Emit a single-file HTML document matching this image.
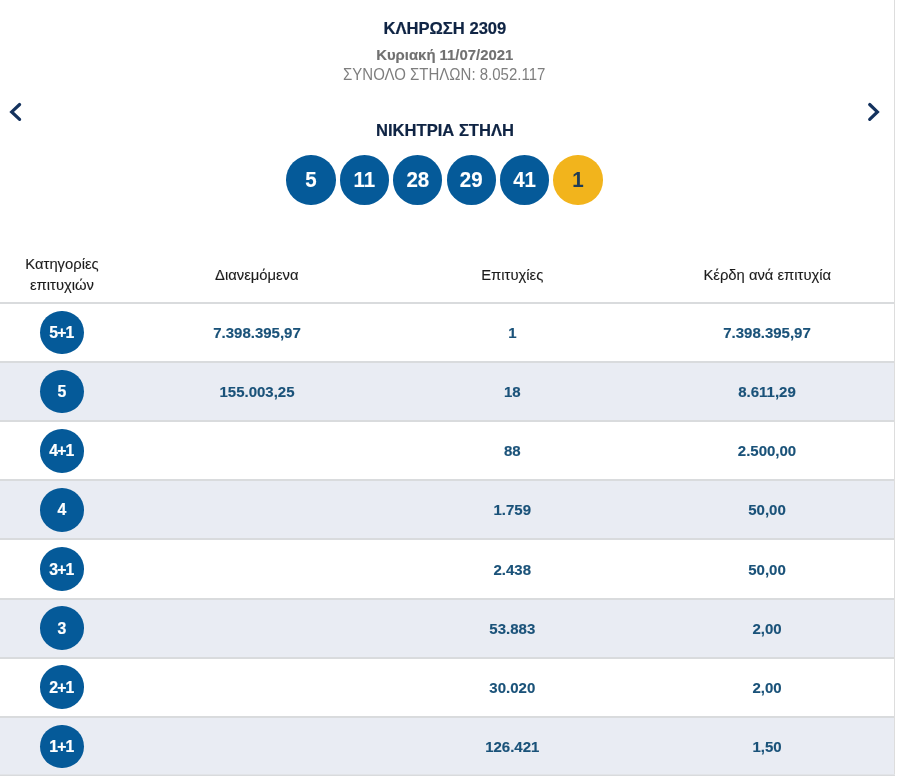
<!DOCTYPE html>
<html><head><meta charset="utf-8"><style>
html,body{margin:0;padding:0;background:#fff;}
body{width:898px;height:780px;position:relative;overflow:hidden;font-family:"Liberation Sans",sans-serif;}
#w{position:absolute;left:0;top:0;width:898px;height:780px;will-change:transform;}
</style></head><body><div id="w">
<div style="position:absolute;left:894px;top:0;width:1px;height:776px;background:#dddddd"></div>
<div style="position:absolute;left:194.90px;width:500px;top:14.10px;height:30px;line-height:30px;text-align:center;font-size:16.6px;font-weight:bold;color:#0f2444;white-space:nowrap;-webkit-text-stroke:0.2px">ΚΛΗΡΩΣΗ 2309</div>
<div style="position:absolute;left:194.75px;width:500px;top:39.80px;height:30px;line-height:30px;text-align:center;font-size:14.9px;font-weight:bold;color:#717171;white-space:nowrap;transform:scaleY(1.03);transform-origin:50% 20.0px;-webkit-text-stroke:0.15px">Κυριακή 11/07/2021</div>
<div style="position:absolute;left:194.20px;width:500px;top:60.40px;height:30px;line-height:30px;text-align:center;font-size:15px;font-weight:normal;color:#7e7e7e;white-space:nowrap;transform:scaleY(1.05);transform-origin:50% 20.5px;">ΣΥΝΟΛΟ ΣΤΗΛΩΝ: 8.052.117</div>
<div style="position:absolute;left:195.00px;width:500px;top:115.70px;height:30px;line-height:30px;text-align:center;font-size:16.6px;font-weight:bold;color:#0f2444;white-space:nowrap;-webkit-text-stroke:0.2px">ΝΙΚΗΤΡΙΑ ΣΤΗΛΗ</div>
<svg style="position:absolute;left:0;top:0" width="898" height="200"><polyline points="19.6,104.5 11.7,111.9 19.6,119.3" fill="none" stroke="#14325e" stroke-width="3.2" stroke-linecap="round" stroke-linejoin="miter"/><polyline points="869.7,104.5 877.4,111.9 869.7,119.3" fill="none" stroke="#14325e" stroke-width="3.2" stroke-linecap="round" stroke-linejoin="miter"/></svg>
<div style="position:absolute;left:286.30px;top:155.3px;width:49.4px;height:49.4px;border-radius:50%;background:#055a99"></div>
<div style="position:absolute;left:61.00px;width:500px;top:164.90px;height:30px;line-height:30px;text-align:center;font-size:20.5px;font-weight:bold;color:#fff;white-space:nowrap;transform:scaleY(1.08);transform-origin:50% 22.5px;-webkit-text-stroke:0.1px">5</div>
<div style="position:absolute;left:339.70px;top:155.3px;width:49.4px;height:49.4px;border-radius:50%;background:#055a99"></div>
<div style="position:absolute;left:114.40px;width:500px;top:164.90px;height:30px;line-height:30px;text-align:center;font-size:20.5px;font-weight:bold;color:#fff;white-space:nowrap;transform:scaleY(1.08);transform-origin:50% 22.5px;-webkit-text-stroke:0.1px">11</div>
<div style="position:absolute;left:393.10px;top:155.3px;width:49.4px;height:49.4px;border-radius:50%;background:#055a99"></div>
<div style="position:absolute;left:167.80px;width:500px;top:164.90px;height:30px;line-height:30px;text-align:center;font-size:20.5px;font-weight:bold;color:#fff;white-space:nowrap;transform:scaleY(1.08);transform-origin:50% 22.5px;-webkit-text-stroke:0.1px">28</div>
<div style="position:absolute;left:446.50px;top:155.3px;width:49.4px;height:49.4px;border-radius:50%;background:#055a99"></div>
<div style="position:absolute;left:221.20px;width:500px;top:164.90px;height:30px;line-height:30px;text-align:center;font-size:20.5px;font-weight:bold;color:#fff;white-space:nowrap;transform:scaleY(1.08);transform-origin:50% 22.5px;-webkit-text-stroke:0.1px">29</div>
<div style="position:absolute;left:499.90px;top:155.3px;width:49.4px;height:49.4px;border-radius:50%;background:#055a99"></div>
<div style="position:absolute;left:274.60px;width:500px;top:164.90px;height:30px;line-height:30px;text-align:center;font-size:20.5px;font-weight:bold;color:#fff;white-space:nowrap;transform:scaleY(1.08);transform-origin:50% 22.5px;-webkit-text-stroke:0.1px">41</div>
<div style="position:absolute;left:553.30px;top:155.3px;width:49.4px;height:49.4px;border-radius:50%;background:#f2b41c"></div>
<div style="position:absolute;left:328.00px;width:500px;top:164.90px;height:30px;line-height:30px;text-align:center;font-size:20.5px;font-weight:bold;color:#1f3d57;white-space:nowrap;transform:scaleY(1.08);transform-origin:50% 22.5px;-webkit-text-stroke:0.1px">1</div>
<div style="position:absolute;left:-188.00px;width:500px;top:248.90px;height:30px;line-height:30px;text-align:center;font-size:14.8px;font-weight:normal;color:#1c1c1c;white-space:nowrap;-webkit-text-stroke:0.12px">Κατηγορίες</div>
<div style="position:absolute;left:-188.00px;width:500px;top:269.50px;height:30px;line-height:30px;text-align:center;font-size:14.8px;font-weight:normal;color:#1c1c1c;white-space:nowrap;-webkit-text-stroke:0.12px">επιτυχιών</div>
<div style="position:absolute;left:6.80px;width:500px;top:260.00px;height:30px;line-height:30px;text-align:center;font-size:14.8px;font-weight:normal;color:#1c1c1c;white-space:nowrap;-webkit-text-stroke:0.12px">Διανεμόμενα</div>
<div style="position:absolute;left:262.30px;width:500px;top:260.00px;height:30px;line-height:30px;text-align:center;font-size:14.8px;font-weight:normal;color:#1c1c1c;white-space:nowrap;-webkit-text-stroke:0.12px">Επιτυχίες</div>
<div style="position:absolute;left:517.30px;width:500px;top:260.00px;height:30px;line-height:30px;text-align:center;font-size:14.8px;font-weight:normal;color:#1c1c1c;white-space:nowrap;-webkit-text-stroke:0.12px">Κέρδη ανά επιτυχία</div>
<div style="position:absolute;left:0;top:302px;width:894px;height:2px;background:#d9dbdd"></div>
<div style="position:absolute;left:0;top:361.000px;width:894px;height:2px;background:#d9dbdd"></div>
<div style="position:absolute;left:40.10px;top:310.70px;width:43.6px;height:43.6px;border-radius:50%;background:#055a99"></div>
<div style="position:absolute;left:-188.60px;width:500px;top:318.00px;height:30px;line-height:30px;text-align:center;font-size:15.8px;font-weight:bold;color:#fff;white-space:nowrap;letter-spacing:-0.9px;-webkit-text-stroke:0.2px">5+1</div>
<div style="position:absolute;left:7.00px;width:500px;top:318.00px;height:30px;line-height:30px;text-align:center;font-size:15px;font-weight:bold;color:#1a5279;white-space:nowrap;-webkit-text-stroke:0.15px">7.398.395,97</div>
<div style="position:absolute;left:262.30px;width:500px;top:318.00px;height:30px;line-height:30px;text-align:center;font-size:15px;font-weight:bold;color:#1a5279;white-space:nowrap;-webkit-text-stroke:0.15px">1</div>
<div style="position:absolute;left:517.00px;width:500px;top:318.00px;height:30px;line-height:30px;text-align:center;font-size:15px;font-weight:bold;color:#1a5279;white-space:nowrap;-webkit-text-stroke:0.15px">7.398.395,97</div>
<div style="position:absolute;left:0;top:363.125px;width:894px;height:57.000px;background:#e9ecf3"></div>
<div style="position:absolute;left:0;top:420.125px;width:894px;height:2px;background:#d9dbdd"></div>
<div style="position:absolute;left:40.10px;top:369.82px;width:43.6px;height:43.6px;border-radius:50%;background:#055a99"></div>
<div style="position:absolute;left:-188.60px;width:500px;top:377.12px;height:30px;line-height:30px;text-align:center;font-size:15.8px;font-weight:bold;color:#fff;white-space:nowrap;letter-spacing:-0.9px;-webkit-text-stroke:0.2px">5</div>
<div style="position:absolute;left:7.00px;width:500px;top:377.12px;height:30px;line-height:30px;text-align:center;font-size:15px;font-weight:bold;color:#1a5279;white-space:nowrap;-webkit-text-stroke:0.15px">155.003,25</div>
<div style="position:absolute;left:262.30px;width:500px;top:377.12px;height:30px;line-height:30px;text-align:center;font-size:15px;font-weight:bold;color:#1a5279;white-space:nowrap;-webkit-text-stroke:0.15px">18</div>
<div style="position:absolute;left:517.00px;width:500px;top:377.12px;height:30px;line-height:30px;text-align:center;font-size:15px;font-weight:bold;color:#1a5279;white-space:nowrap;-webkit-text-stroke:0.15px">8.611,29</div>
<div style="position:absolute;left:0;top:479.250px;width:894px;height:2px;background:#d9dbdd"></div>
<div style="position:absolute;left:40.10px;top:428.95px;width:43.6px;height:43.6px;border-radius:50%;background:#055a99"></div>
<div style="position:absolute;left:-188.60px;width:500px;top:436.25px;height:30px;line-height:30px;text-align:center;font-size:15.8px;font-weight:bold;color:#fff;white-space:nowrap;letter-spacing:-0.9px;-webkit-text-stroke:0.2px">4+1</div>
<div style="position:absolute;left:262.30px;width:500px;top:436.25px;height:30px;line-height:30px;text-align:center;font-size:15px;font-weight:bold;color:#1a5279;white-space:nowrap;-webkit-text-stroke:0.15px">88</div>
<div style="position:absolute;left:517.00px;width:500px;top:436.25px;height:30px;line-height:30px;text-align:center;font-size:15px;font-weight:bold;color:#1a5279;white-space:nowrap;-webkit-text-stroke:0.15px">2.500,00</div>
<div style="position:absolute;left:0;top:481.375px;width:894px;height:57.000px;background:#e9ecf3"></div>
<div style="position:absolute;left:0;top:538.375px;width:894px;height:2px;background:#d9dbdd"></div>
<div style="position:absolute;left:40.10px;top:488.07px;width:43.6px;height:43.6px;border-radius:50%;background:#055a99"></div>
<div style="position:absolute;left:-188.60px;width:500px;top:495.38px;height:30px;line-height:30px;text-align:center;font-size:15.8px;font-weight:bold;color:#fff;white-space:nowrap;letter-spacing:-0.9px;-webkit-text-stroke:0.2px">4</div>
<div style="position:absolute;left:262.30px;width:500px;top:495.38px;height:30px;line-height:30px;text-align:center;font-size:15px;font-weight:bold;color:#1a5279;white-space:nowrap;-webkit-text-stroke:0.15px">1.759</div>
<div style="position:absolute;left:517.00px;width:500px;top:495.38px;height:30px;line-height:30px;text-align:center;font-size:15px;font-weight:bold;color:#1a5279;white-space:nowrap;-webkit-text-stroke:0.15px">50,00</div>
<div style="position:absolute;left:0;top:597.500px;width:894px;height:2px;background:#d9dbdd"></div>
<div style="position:absolute;left:40.10px;top:547.20px;width:43.6px;height:43.6px;border-radius:50%;background:#055a99"></div>
<div style="position:absolute;left:-188.60px;width:500px;top:554.50px;height:30px;line-height:30px;text-align:center;font-size:15.8px;font-weight:bold;color:#fff;white-space:nowrap;letter-spacing:-0.9px;-webkit-text-stroke:0.2px">3+1</div>
<div style="position:absolute;left:262.30px;width:500px;top:554.50px;height:30px;line-height:30px;text-align:center;font-size:15px;font-weight:bold;color:#1a5279;white-space:nowrap;-webkit-text-stroke:0.15px">2.438</div>
<div style="position:absolute;left:517.00px;width:500px;top:554.50px;height:30px;line-height:30px;text-align:center;font-size:15px;font-weight:bold;color:#1a5279;white-space:nowrap;-webkit-text-stroke:0.15px">50,00</div>
<div style="position:absolute;left:0;top:599.625px;width:894px;height:57.000px;background:#e9ecf3"></div>
<div style="position:absolute;left:0;top:656.625px;width:894px;height:2px;background:#d9dbdd"></div>
<div style="position:absolute;left:40.10px;top:606.33px;width:43.6px;height:43.6px;border-radius:50%;background:#055a99"></div>
<div style="position:absolute;left:-188.60px;width:500px;top:613.62px;height:30px;line-height:30px;text-align:center;font-size:15.8px;font-weight:bold;color:#fff;white-space:nowrap;letter-spacing:-0.9px;-webkit-text-stroke:0.2px">3</div>
<div style="position:absolute;left:262.30px;width:500px;top:613.62px;height:30px;line-height:30px;text-align:center;font-size:15px;font-weight:bold;color:#1a5279;white-space:nowrap;-webkit-text-stroke:0.15px">53.883</div>
<div style="position:absolute;left:517.00px;width:500px;top:613.62px;height:30px;line-height:30px;text-align:center;font-size:15px;font-weight:bold;color:#1a5279;white-space:nowrap;-webkit-text-stroke:0.15px">2,00</div>
<div style="position:absolute;left:0;top:715.750px;width:894px;height:2px;background:#d9dbdd"></div>
<div style="position:absolute;left:40.10px;top:665.45px;width:43.6px;height:43.6px;border-radius:50%;background:#055a99"></div>
<div style="position:absolute;left:-188.60px;width:500px;top:672.75px;height:30px;line-height:30px;text-align:center;font-size:15.8px;font-weight:bold;color:#fff;white-space:nowrap;letter-spacing:-0.9px;-webkit-text-stroke:0.2px">2+1</div>
<div style="position:absolute;left:262.30px;width:500px;top:672.75px;height:30px;line-height:30px;text-align:center;font-size:15px;font-weight:bold;color:#1a5279;white-space:nowrap;-webkit-text-stroke:0.15px">30.020</div>
<div style="position:absolute;left:517.00px;width:500px;top:672.75px;height:30px;line-height:30px;text-align:center;font-size:15px;font-weight:bold;color:#1a5279;white-space:nowrap;-webkit-text-stroke:0.15px">2,00</div>
<div style="position:absolute;left:0;top:717.875px;width:894px;height:57.000px;background:#e9ecf3"></div>
<div style="position:absolute;left:0;top:774px;width:895px;height:2px;background:linear-gradient(#e2e4e8 50%,#d9dbdd 50%)"></div>
<div style="position:absolute;left:40.10px;top:724.58px;width:43.6px;height:43.6px;border-radius:50%;background:#055a99"></div>
<div style="position:absolute;left:-188.60px;width:500px;top:731.88px;height:30px;line-height:30px;text-align:center;font-size:15.8px;font-weight:bold;color:#fff;white-space:nowrap;letter-spacing:-0.9px;-webkit-text-stroke:0.2px">1+1</div>
<div style="position:absolute;left:262.30px;width:500px;top:731.88px;height:30px;line-height:30px;text-align:center;font-size:15px;font-weight:bold;color:#1a5279;white-space:nowrap;-webkit-text-stroke:0.15px">126.421</div>
<div style="position:absolute;left:517.00px;width:500px;top:731.88px;height:30px;line-height:30px;text-align:center;font-size:15px;font-weight:bold;color:#1a5279;white-space:nowrap;-webkit-text-stroke:0.15px">1,50</div>
</div></body></html>
